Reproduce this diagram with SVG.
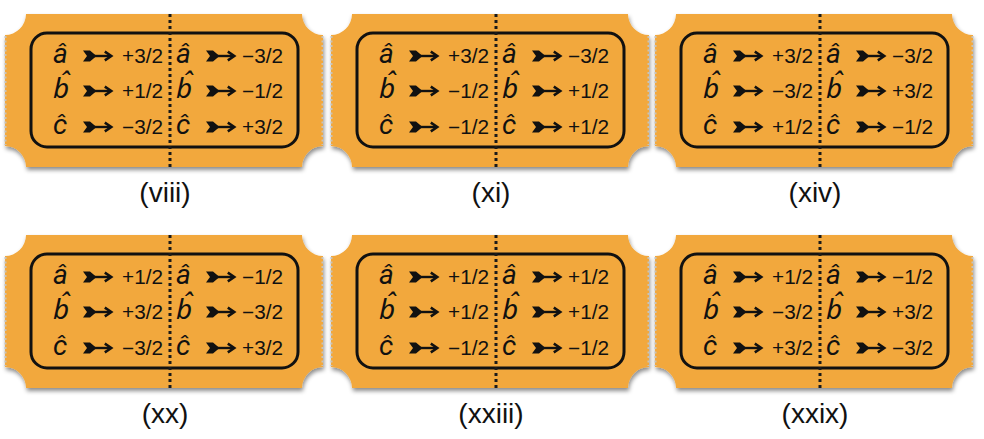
<svg xmlns="http://www.w3.org/2000/svg" xmlns:xlink="http://www.w3.org/1999/xlink" width="984" height="439" viewBox="0 0 984 439">
<style>
.body{fill:#F2A83C}
.serr{fill:none;stroke:#c9c3b8;stroke-width:2;stroke-dasharray:2 2.5}
.inner{fill:none;stroke:#111;stroke-width:3}
.dots{stroke:#1a1a1a;stroke-width:3;stroke-dasharray:3 3}
.v{font-family:Roboto,"Noto Sans","DejaVu Sans",sans-serif;font-style:italic;font-size:28px;fill:#111}
.n{font-family:"Liberation Sans",Arial,sans-serif;font-size:19.5px;fill:#111}
.lab{font-family:"Liberation Sans",Arial,sans-serif;font-size:28px;fill:#111;text-anchor:middle}
</style>
<defs>
<filter id="sh" x="-5%" y="-5%" width="112%" height="120%">
<feDropShadow dx="1" dy="3" stdDeviation="2" flood-color="#000" flood-opacity="0.45"/>
</filter>
<g id="tk">
<path class="body" filter="url(#sh)" d="M21,0 H297 A21 21 0 0 0 318,21 V132 A21 21 0 0 0 297,153 H21 A21 21 0 0 0 0,132 V21 A21 21 0 0 0 21,0 Z"/>
<path class="serr" d="M0.5,22 V131 M317.5,22 V131"/>
<rect class="inner" x="26" y="19" width="267" height="114" rx="16"/>
<line class="dots" x1="165" y1="0" x2="165" y2="153"/>
</g>
<g id="arr">
<polygon points="0,-0.5 7,-0.5 13.5,5 7,10.5 0,10.5 4,5" fill="#111"/>
<line x1="11" y1="5" x2="27.5" y2="5" stroke="#111" stroke-width="2.4"/>
<polyline points="21.8,0.6 28.3,5 21.8,9.4" fill="none" stroke="#111" stroke-width="2.5"/>
</g>
<g id="rows">
<text class="v" x="48" y="49">â</text>
<text class="v" x="48" y="84">b&#x302;</text>
<text class="v" x="48" y="120">ĉ</text>
<text class="v" x="171" y="49">â</text>
<text class="v" x="171" y="84">b&#x302;</text>
<text class="v" x="171" y="120">ĉ</text>
<use href="#arr" x="78" y="37"/>
<use href="#arr" x="78" y="72"/>
<use href="#arr" x="78" y="108"/>
<use href="#arr" x="201" y="37"/>
<use href="#arr" x="201" y="72"/>
<use href="#arr" x="201" y="108"/>
</g>
</defs>

<g id="ticket-viii" transform="translate(5,14)">
<use href="#tk"/><use href="#rows"/>
<text class="n" x="117" y="49" textLength="41" lengthAdjust="spacingAndGlyphs">+3/2</text>
<text class="n" x="117" y="84" textLength="41" lengthAdjust="spacingAndGlyphs">+1/2</text>
<text class="n" x="117" y="120" textLength="41" lengthAdjust="spacingAndGlyphs">−3/2</text>
<text class="n" x="237" y="49" textLength="41" lengthAdjust="spacingAndGlyphs">−3/2</text>
<text class="n" x="237" y="84" textLength="41" lengthAdjust="spacingAndGlyphs">−1/2</text>
<text class="n" x="237" y="120" textLength="41" lengthAdjust="spacingAndGlyphs">+3/2</text>
<text class="lab" x="160" y="188">(viii)</text>
</g>

<g id="ticket-xi" transform="translate(331,14)">
<use href="#tk"/><use href="#rows"/>
<text class="n" x="117" y="49" textLength="41" lengthAdjust="spacingAndGlyphs">+3/2</text>
<text class="n" x="117" y="84" textLength="41" lengthAdjust="spacingAndGlyphs">−1/2</text>
<text class="n" x="117" y="120" textLength="41" lengthAdjust="spacingAndGlyphs">−1/2</text>
<text class="n" x="237" y="49" textLength="41" lengthAdjust="spacingAndGlyphs">−3/2</text>
<text class="n" x="237" y="84" textLength="41" lengthAdjust="spacingAndGlyphs">+1/2</text>
<text class="n" x="237" y="120" textLength="41" lengthAdjust="spacingAndGlyphs">+1/2</text>
<text class="lab" x="160" y="188">(xi)</text>
</g>

<g id="ticket-xiv" transform="translate(655,14)">
<use href="#tk"/><use href="#rows"/>
<text class="n" x="117" y="49" textLength="41" lengthAdjust="spacingAndGlyphs">+3/2</text>
<text class="n" x="117" y="84" textLength="41" lengthAdjust="spacingAndGlyphs">−3/2</text>
<text class="n" x="117" y="120" textLength="41" lengthAdjust="spacingAndGlyphs">+1/2</text>
<text class="n" x="237" y="49" textLength="41" lengthAdjust="spacingAndGlyphs">−3/2</text>
<text class="n" x="237" y="84" textLength="41" lengthAdjust="spacingAndGlyphs">+3/2</text>
<text class="n" x="237" y="120" textLength="41" lengthAdjust="spacingAndGlyphs">−1/2</text>
<text class="lab" x="160" y="188">(xiv)</text>
</g>

<g id="ticket-xx" transform="translate(5,235)">
<use href="#tk"/><use href="#rows"/>
<text class="n" x="117" y="49" textLength="41" lengthAdjust="spacingAndGlyphs">+1/2</text>
<text class="n" x="117" y="84" textLength="41" lengthAdjust="spacingAndGlyphs">+3/2</text>
<text class="n" x="117" y="120" textLength="41" lengthAdjust="spacingAndGlyphs">−3/2</text>
<text class="n" x="237" y="49" textLength="41" lengthAdjust="spacingAndGlyphs">−1/2</text>
<text class="n" x="237" y="84" textLength="41" lengthAdjust="spacingAndGlyphs">−3/2</text>
<text class="n" x="237" y="120" textLength="41" lengthAdjust="spacingAndGlyphs">+3/2</text>
<text class="lab" x="160" y="188">(xx)</text>
</g>

<g id="ticket-xxiii" transform="translate(331,235)">
<use href="#tk"/><use href="#rows"/>
<text class="n" x="117" y="49" textLength="41" lengthAdjust="spacingAndGlyphs">+1/2</text>
<text class="n" x="117" y="84" textLength="41" lengthAdjust="spacingAndGlyphs">+1/2</text>
<text class="n" x="117" y="120" textLength="41" lengthAdjust="spacingAndGlyphs">−1/2</text>
<text class="n" x="237" y="49" textLength="41" lengthAdjust="spacingAndGlyphs">+1/2</text>
<text class="n" x="237" y="84" textLength="41" lengthAdjust="spacingAndGlyphs">+1/2</text>
<text class="n" x="237" y="120" textLength="41" lengthAdjust="spacingAndGlyphs">−1/2</text>
<text class="lab" x="160" y="188">(xxiii)</text>
</g>

<g id="ticket-xxix" transform="translate(655,235)">
<use href="#tk"/><use href="#rows"/>
<text class="n" x="117" y="49" textLength="41" lengthAdjust="spacingAndGlyphs">+1/2</text>
<text class="n" x="117" y="84" textLength="41" lengthAdjust="spacingAndGlyphs">−3/2</text>
<text class="n" x="117" y="120" textLength="41" lengthAdjust="spacingAndGlyphs">+3/2</text>
<text class="n" x="237" y="49" textLength="41" lengthAdjust="spacingAndGlyphs">−1/2</text>
<text class="n" x="237" y="84" textLength="41" lengthAdjust="spacingAndGlyphs">+3/2</text>
<text class="n" x="237" y="120" textLength="41" lengthAdjust="spacingAndGlyphs">−3/2</text>
<text class="lab" x="160" y="188">(xxix)</text>
</g>
</svg>
